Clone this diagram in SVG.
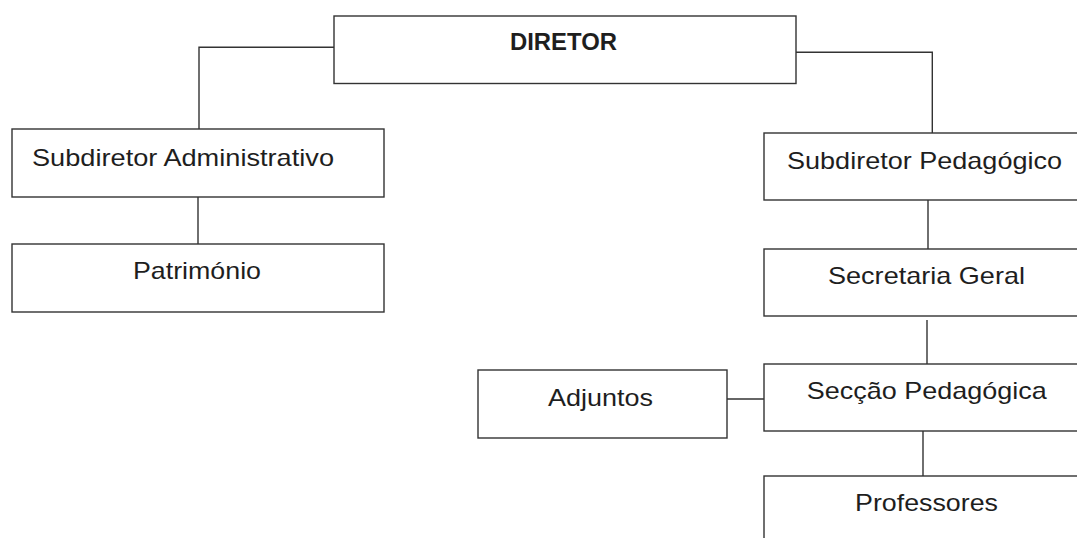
<svg xmlns="http://www.w3.org/2000/svg" width="1077" height="538" viewBox="0 0 1077 538">
<style>
.box{fill:#fff;stroke:#333;stroke-width:1.4}
.conn{fill:none;stroke:#333;stroke-width:1.4}
.t{font-family:"Liberation Sans",Arial,sans-serif;font-size:24px;fill:#1e1e1e}
.b{font-weight:bold}
</style>
<rect width="1077" height="538" fill="#fff"/>
<g id="connectors">
<polyline class="conn" points="334,47.3 199,47.3 199,129"/>
<polyline class="conn" points="796,52.3 932.3,52.3 932.3,133"/>
<line class="conn" x1="198" y1="197" x2="198" y2="244"/>
<line class="conn" x1="928" y1="200" x2="928" y2="249"/>
<line class="conn" x1="927" y1="320" x2="927" y2="364"/>
<line class="conn" x1="727" y1="399" x2="764" y2="399"/>
<line class="conn" x1="923" y1="431" x2="923" y2="476"/>
</g>
<g id="diretor">
<rect class="box" x="334" y="16" width="462" height="67.5"/>
<text class="t b" x="510" y="50" textLength="107" lengthAdjust="spacingAndGlyphs">DIRETOR</text>
</g>
<g id="subdiretor-administrativo">
<rect class="box" x="12" y="129" width="372" height="68"/>
<text class="t" x="32" y="166" textLength="302" lengthAdjust="spacingAndGlyphs">Subdiretor Administrativo</text>
</g>
<g id="patrimonio">
<rect class="box" x="12" y="244" width="372" height="68"/>
<text class="t" x="133" y="279" textLength="128" lengthAdjust="spacingAndGlyphs">Património</text>
</g>
<g id="subdiretor-pedagogico">
<rect class="box" x="764" y="133" width="330" height="67"/>
<text class="t" x="787" y="169" textLength="275" lengthAdjust="spacingAndGlyphs">Subdiretor Pedagógico</text>
</g>
<g id="secretaria-geral">
<rect class="box" x="764" y="249" width="330" height="67"/>
<text class="t" x="828" y="284" textLength="197" lengthAdjust="spacingAndGlyphs">Secretaria Geral</text>
</g>
<g id="adjuntos">
<rect class="box" x="478" y="370" width="249" height="68"/>
<text class="t" x="548" y="405.7" textLength="105" lengthAdjust="spacingAndGlyphs">Adjuntos</text>
</g>
<g id="seccao-pedagogica">
<rect class="box" x="764" y="364" width="330" height="67"/>
<text class="t" x="806.7" y="399.3" textLength="240" lengthAdjust="spacingAndGlyphs">Secção Pedagógica</text>
</g>
<g id="professores">
<rect class="box" x="764" y="476" width="330" height="80"/>
<text class="t" x="855" y="511" textLength="143" lengthAdjust="spacingAndGlyphs">Professores</text>
</g>
</svg>
